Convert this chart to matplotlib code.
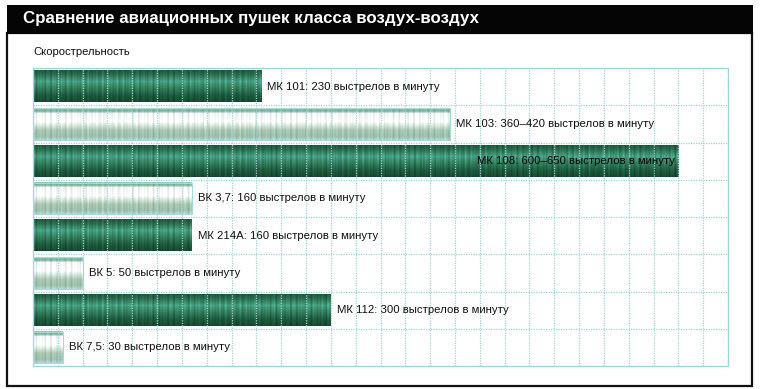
import numpy as np
import matplotlib.pyplot as plt
from matplotlib.patches import Rectangle
from matplotlib.colors import to_rgb

plt.rcParams['font.family'] = ['Liberation Sans', 'DejaVu Sans']

# Данные
cannons = ['МК 101', 'МК 103', 'МК 108', 'ВК 3,7', 'МК 214А', 'ВК 5', 'МК 112', 'ВК 7,5']
rate = [230, 420, 650, 160, 160, 50, 300, 30]
rate_text = ['230', '360–420', '600–650', '160', '160', '50', '300', '30']
dark = [True, False, True, False, True, False, True, False]

title = 'Сравнение авиационных пушек класса воздух-воздух'
subtitle = 'Скорострельность'
xmax = 700
grid_step = 25


def texture(w_px, is_dark, n_rows=32):
    # вертикальный градиент + полосы, как на скане
    xs = np.arange(w_px)
    stripes = (0.12 * np.sin(xs * 1.7) * np.sin(xs * 0.43)
               + 0.08 * np.sin(xs * 0.91 + 1.3))
    t = np.linspace(0, 1, n_rows)
    if is_dark:
        stops = [(0.0, '#22583f'), (0.12, '#2a6a4c'), (0.35, '#46a083'),
                 (0.55, '#33805f'), (0.8, '#1d5a3c'), (1.0, '#164a30')]
    else:
        stops = [(0.0, '#8fc9b8'), (0.08, '#74b096'), (0.16, '#f2f8f5'),
                 (0.42, '#ffffff'), (0.55, '#d6e6dc'), (0.7, '#a9c6b2'),
                 (0.9, '#9dbfa9'), (1.0, '#a9d6d3')]
    pos = [p for p, _ in stops]
    cols = np.array([to_rgb(c) for _, c in stops])
    prof = np.stack([np.interp(t, pos, cols[:, k]) for k in range(3)], axis=-1)
    amp = 1.0 if is_dark else 0.5
    img = prof[:, None, :] * (1 + amp * stripes[None, :, None])
    return np.clip(img, 0, 1)


fig = plt.figure(figsize=(7.6, 3.89), dpi=100)

# шапка и рамка
fig.patches.append(Rectangle((7 / 760, 1 - 386 / 389), 745 / 760, 353 / 389,
                             transform=fig.transFigure, facecolor='white',
                             edgecolor='#111111', linewidth=1.6, zorder=0))
fig.patches.append(Rectangle((7 / 760, 1 - 34 / 389), 746 / 760, 29 / 389,
                             transform=fig.transFigure, facecolor='#050505',
                             edgecolor='none', zorder=1))
fig.text(23 / 760, 1 - 19 / 389, title, color='white', fontsize=12.2,
         fontweight='bold', va='center', ha='left')
fig.text(33 / 760, 1 - 52 / 389, subtitle, color='#111111', fontsize=8.1,
         va='center', ha='left')

ax = fig.add_axes([33 / 760, 1 - 366 / 389, 695 / 760, 298 / 389])
ax.set_zorder(3)
y = np.arange(len(cannons))
bars = ax.barh(y, rate, height=0.84, color='none', edgecolor='none')

for i, bar in enumerate(bars):
    x0, y0 = bar.get_x(), bar.get_y()
    w, h = bar.get_width(), bar.get_height()
    ax.imshow(texture(int(w), dark[i]), extent=[x0, x0 + w, y0 + h, y0],
              aspect='auto', interpolation='nearest', zorder=2)
    if not dark[i]:
        ax.add_patch(Rectangle((x0, y0), w, h, facecolor='none',
                               edgecolor='#a6dad8', linewidth=0.8, zorder=3))
    label = f'{cannons[i]}: {rate_text[i]} выстрелов в минуту'
    if i == 2:
        ax.text(x0 + w - 3, y[i], label, ha='right', va='center',
                fontsize=8.2, color='#050505', zorder=5)
    else:
        ax.text(x0 + w + 6, y[i], label, ha='left', va='center',
                fontsize=8.2, color='#111111', zorder=5)

ax.set_xlim(0, xmax)
ax.set_ylim(len(cannons) - 0.5, -0.5)
ax.set_xticks(np.arange(0, xmax + 1, grid_step))
ax.set_yticks(np.arange(-0.5, len(cannons), 1))
ax.tick_params(length=0, labelbottom=False, labelleft=False)
ax.grid(True, color='#9fd6d6', linestyle=(0, (1, 1)), linewidth=0.9, zorder=4)
ax.set_axisbelow(False)
for s in ax.spines.values():
    s.set_color('#9fd6d6')
    s.set_linestyle((0, (1, 1)))
    s.set_linewidth(0.9)
ax.patch.set_alpha(0)

fig.savefig('out.png', dpi=100)
